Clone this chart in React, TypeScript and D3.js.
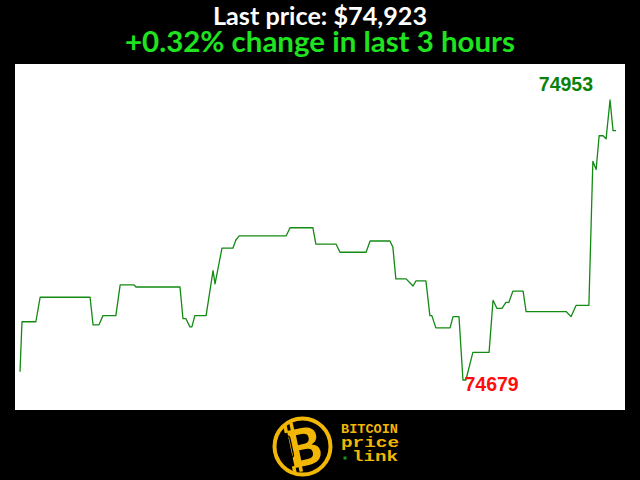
import React from "react";
import * as d3 from "d3";

// time in minutes since start of 3h window
const times = [
  0, 0.6, 4.8, 6.1, 21.2, 22.1, 23.9, 25.1, 29.0, 30.3, 34.5, 35.1, 48.4, 49.3, 50.2, 51.4, 52.0, 52.9,
  56.3, 58.4, 59.0, 61.1, 64.4, 65.3, 66.3, 80.5, 81.7, 88.6, 89.5, 95.6, 96.8, 104.7, 105.9, 111.9,
  112.8, 113.7, 116.8, 118.9, 119.8, 122.8, 124.0, 124.6, 125.8, 130.1, 131.0, 132.8, 134.0, 134.9,
  137.0, 141.9, 143.1, 144.3, 145.8, 147.0, 147.9, 149.1, 152.2, 153.1, 165.2, 166.7, 168.2, 172.1,
  173.3, 174.3, 175.2, 176.4, 177.3, 178.5, 179.4, 180.3,
];
const prices = [
  74687, 74736, 74736, 74760, 74760, 74733, 74733, 74742, 74742, 74772, 74772, 74770, 74770, 74739,
  74739, 74731, 74731, 74742, 74742, 74786, 74773, 74808, 74808, 74816, 74820, 74820, 74828, 74828,
  74812, 74812, 74804, 74804, 74815, 74815, 74809, 74778, 74778, 74771, 74776, 74776, 74742, 74742,
  74730, 74730, 74741, 74741, 74679, 74679, 74706, 74706, 74757, 74749, 74749, 74755, 74755, 74766,
  74766, 74746, 74746, 74741, 74752, 74752, 74893, 74885, 74918, 74918, 74915, 74953, 74923, 74923,
];
const titleLine1 = "Last price: $74,923";
const titleLine2 = "+0.32% change in last 3 hours";
const logoWords = ["BITCOIN", "price", "link"];

export default function App() {
  const data = times.map((t, i) => ({ t, v: prices[i] }));
  const x = d3.scaleLinear().domain([0, 180.3]).range([20, 616]);
  const minV = d3.min(prices) as number;
  const maxV = d3.max(prices) as number;
  const y = d3.scaleLinear().domain([minV, maxV]).range([380, 100]);
  const line = d3
    .line<{ t: number; v: number }>()
    .x((d) => x(d.t))
    .y((d) => y(d.v));
  const minIdx = prices.indexOf(minV);
  const maxIdx = prices.indexOf(maxV);
  const yellow = "#f2b705";

  return (
    <svg
      width={640}
      height={480}
      style={{ position: "fixed", left: 0, top: 0, display: "block", background: "#000" }}
    >
      <rect x={0} y={0} width={640} height={480} fill="#000" />
      <text
        x={320}
        y={25}
        textAnchor="middle"
        fontFamily="Lato, 'Open Sans', sans-serif"
        fontWeight={700}
        fontSize={24}
        fill="#fff"
        textLength={214}
        lengthAdjust="spacingAndGlyphs"
      >
        {titleLine1}
      </text>
      <text
        x={320}
        y={52}
        textAnchor="middle"
        fontFamily="Lato, 'Open Sans', sans-serif"
        fontWeight={700}
        fontSize={28}
        fill="#1fe31f"
        textLength={390}
        lengthAdjust="spacingAndGlyphs"
      >
        {titleLine2}
      </text>
      <rect x={15} y={64} width={610} height={346} fill="#fff" />
      <path d={line(data) || ""} fill="none" stroke="#138a13" strokeWidth={1.3} strokeLinejoin="round" />
      <text
        x={x(times[maxIdx]) - 17}
        y={y(maxV) - 9}
        textAnchor="end"
        fontFamily="'Liberation Sans', Arial, sans-serif"
        fontWeight={700}
        fontSize={19.5}
        fill="#0a820a"
      >
        {maxV}
      </text>
      <text
        x={x(times[minIdx]) + 1.5}
        y={y(minV) + 11}
        textAnchor="start"
        fontFamily="'Liberation Sans', Arial, sans-serif"
        fontWeight={700}
        fontSize={19.5}
        fill="#ff0d0d"
      >
        {minV}
      </text>
      {/* logo */}
      <g>
        <circle cx={302.5} cy={446.5} r={28} fill="#000" stroke={yellow} strokeWidth={4} />
        <g transform="rotate(-12 302 447)">
          <rect x={288} y={421} width={3.5} height={9} fill={yellow} />
          <rect x={294.5} y={421} width={3.5} height={9} fill={yellow} />
          <rect x={288} y={464} width={3.5} height={7} fill={yellow} />
          <rect x={294.5} y={464} width={3.5} height={7} fill={yellow} />
          <text
            x={304}
            y={466}
            textAnchor="middle"
            fontFamily="Lato, 'DejaVu Sans', sans-serif"
            fontWeight={900}
            fontSize={52}
            fill={yellow}
          >
            B
          </text>
          <rect x={287} y={433} width={5} height={22} rx={2.5} fill="none" stroke="#000" strokeWidth={1.3} />
        </g>
        <text
          x={341}
          y={433}
          fontFamily="'Liberation Mono', 'Courier New', monospace"
          fontWeight={700}
          fontSize={12}
          fill={yellow}
          textLength={57}
          lengthAdjust="spacingAndGlyphs"
        >
          {logoWords[0]}
        </text>
        <text
          x={341}
          y={447}
          fontFamily="'Liberation Mono', 'Courier New', monospace"
          fontWeight={700}
          fontSize={14}
          fill={yellow}
          textLength={58}
          lengthAdjust="spacingAndGlyphs"
        >
          {logoWords[1]}
        </text>
        <rect x={343.5} y={456.5} width={3} height={3} fill="#1a9a1a" />
        <text
          x={352}
          y={461}
          fontFamily="'Liberation Mono', 'Courier New', monospace"
          fontWeight={700}
          fontSize={14}
          fill={yellow}
          textLength={46}
          lengthAdjust="spacingAndGlyphs"
        >
          {logoWords[2]}
        </text>
      </g>
    </svg>
  );
}
